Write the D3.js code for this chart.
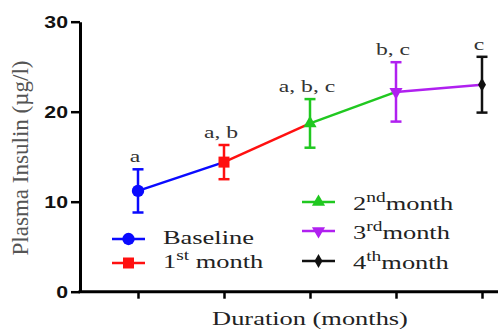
<!DOCTYPE html>
<html>
<head>
<meta charset="utf-8">
<script src="https://d3js.org/d3.v7.min.js"></script>
<style>
  body { margin: 0; background: #fff; }
  svg { display: block; }
</style>
</head>
<body>
<svg id="chart" width="498" height="331"></svg>
<script>
// data
const categories = ["Baseline", "1st month", "2nd month", "3rd month", "4th month"];
const means = [11.2, 14.4, 18.7, 22.2, 23.0];
const errors = [2.4, 1.9, 2.7, 3.3, 3.1];
const letters = ["a", "a, b", "a, b, c", "b, c", "c"];
const yTicks = [0, 10, 20, 30];
const colors = ["#0a0aff", "#ff1010", "#20c820", "#b020f0", "#111111"];
const shapes = ["circle", "square", "triangle", "triangleDown", "diamond"];
// legend text split into number, superscript, rest
const legendNum = ["", "1", "2", "3", "4"];
const legendSup = ["", "st", "nd", "rd", "th"];
const legendRest = ["Baseline", " month", "month", "month", "month"];

const svg = d3.select("#chart");
const SERIF = "Liberation Serif, Times New Roman, serif";
const SX = 1.39; // glyphs in the picture are wide

const x = d3.scalePoint().domain(categories).range([138, 482]);
const y = d3.scaleLinear().domain([0, 30]).range([291.7, 21.7]);

function symbolPath(shape) {
  if (shape === "circle") return d3.symbol(d3.symbolCircle, 120)();
  if (shape === "square") return d3.symbol(d3.symbolSquare, 121)();
  if (shape === "triangle") return d3.symbol(d3.symbolTriangle, 75)();
  if (shape === "triangleDown") return d3.symbol(d3.symbolTriangle, 75)();
  return d3.symbol(d3.symbolDiamond, 55)();
}
function symbolRot(shape) { return shape === "triangleDown" ? " rotate(180)" : ""; }

// y axis
const yAxis = svg.append("g")
  .attr("transform", "translate(80,0)")
  .call(d3.axisLeft(y).tickValues(yTicks).tickSize(9).tickPadding(3).tickSizeOuter(0));
yAxis.select(".domain").attr("stroke", "#000").attr("stroke-width", 3);
yAxis.selectAll(".tick line").attr("stroke", "#000").attr("stroke-width", 2.5);
yAxis.selectAll(".tick text").remove();
yAxis.selectAll(".tick").append("text")
  .attr("transform", "translate(-12,6) scale(1.25,1)")
  .attr("text-anchor", "end")
  .attr("font-family", "Liberation Sans, Arial, sans-serif")
  .attr("font-weight", "bold")
  .attr("font-size", 17)
  .attr("fill", "#111")
  .text(d => d);

// x axis
const xAxis = svg.append("g")
  .attr("transform", "translate(0," + y(0) + ")")
  .call(d3.axisBottom(x).tickSize(7).tickFormat(""));
xAxis.select(".domain").remove();
xAxis.selectAll(".tick line").attr("stroke", "#000").attr("stroke-width", 2.5);
svg.append("line")
  .attr("x1", 78.5).attr("x2", 498)
  .attr("y1", y(0)).attr("y2", y(0))
  .attr("stroke", "#000").attr("stroke-width", 3);

// axis titles
svg.append("text")
  .attr("transform", "translate(310,325) scale(" + SX + ",1)")
  .attr("text-anchor", "middle")
  .attr("font-family", SERIF)
  .attr("font-size", 19)
  .attr("fill", "#222")
  .text("Duration (months)");

svg.append("text")
  .attr("transform", "translate(28,158) rotate(-90) scale(1,1.16)")
  .attr("text-anchor", "middle")
  .attr("font-family", SERIF)
  .attr("font-size", 19)
  .attr("textLength", 195)
  .attr("lengthAdjust", "spacingAndGlyphs")
  .attr("fill", "#555")
  .text("Plasma Insulin (\u00b5g/l)");

// connecting segments, coloured by the starting point
const pts = categories.map((c, i) => ({ c, m: means[i], e: errors[i], i }));
svg.append("g").selectAll("line")
  .data(pts.slice(0, -1))
  .join("line")
  .attr("x1", d => x(d.c)).attr("y1", d => y(d.m))
  .attr("x2", d => x(categories[d.i + 1])).attr("y2", d => y(means[d.i + 1]))
  .attr("stroke", d => colors[d.i])
  .attr("stroke-width", 2.5);

// error bars
const eb = svg.append("g").selectAll("g").data(pts).join("g")
  .attr("stroke", d => colors[d.i])
  .attr("stroke-width", 2.5);
eb.append("line")
  .attr("x1", d => x(d.c)).attr("x2", d => x(d.c))
  .attr("y1", d => y(d.m + d.e)).attr("y2", d => y(d.m - d.e));
eb.append("line")
  .attr("x1", d => x(d.c) - 5.5).attr("x2", d => x(d.c) + 5.5)
  .attr("y1", d => y(d.m + d.e)).attr("y2", d => y(d.m + d.e));
eb.append("line")
  .attr("x1", d => x(d.c) - 5.5).attr("x2", d => x(d.c) + 5.5)
  .attr("y1", d => y(d.m - d.e)).attr("y2", d => y(d.m - d.e));

// markers
svg.append("g").selectAll("path").data(pts).join("path")
  .attr("d", d => symbolPath(shapes[d.i]))
  .attr("transform", d => "translate(" + x(d.c) + "," + y(d.m) + ")" + symbolRot(shapes[d.i]))
  .attr("fill", d => colors[d.i]);

// significance letters
svg.append("g").selectAll("text").data(pts).join("text")
  .attr("transform", d => "translate(" + (x(d.c) - 3) + "," + (y(d.m + d.e) - 7) + ") scale(" + SX + ",1)")
  .attr("text-anchor", "middle")
  .attr("font-family", SERIF)
  .attr("font-size", 17)
  .attr("fill", "#333")
  .text(d => letters[d.i]);

// legend: two columns
const legendPos = [
  { x: 112, y: 239, dy: 5 },
  { x: 112, y: 263, dy: 5 },
  { x: 302, y: 202, dy: 8 },
  { x: 302, y: 231, dy: 8 },
  { x: 302, y: 261, dy: 8 }
];
const lg = svg.append("g").selectAll("g").data(pts).join("g")
  .attr("transform", d => "translate(" + legendPos[d.i].x + "," + legendPos[d.i].y + ")");
lg.append("line")
  .attr("x1", 0).attr("x2", 33)
  .attr("stroke", d => colors[d.i]).attr("stroke-width", 2.5);
lg.append("path")
  .attr("d", d => symbolPath(shapes[d.i]))
  .attr("transform", d => "translate(16.5,0)" + symbolRot(shapes[d.i]))
  .attr("fill", d => colors[d.i]);
const lt = lg.append("text")
  .attr("transform", d => "translate(51," + legendPos[d.i].dy + ") scale(" + SX + ",1)")
  .attr("font-family", SERIF)
  .attr("font-size", 19)
  .attr("fill", "#222");
lt.append("tspan").text(d => legendNum[d.i]);
lt.append("tspan")
  .attr("font-size", 14)
  .attr("dy", d => legendSup[d.i] ? -8 : 0)
  .text(d => legendSup[d.i]);
lt.append("tspan")
  .attr("dy", d => legendSup[d.i] ? 8 : 0)
  .text(d => legendRest[d.i]);
</script>
</body>
</html>
